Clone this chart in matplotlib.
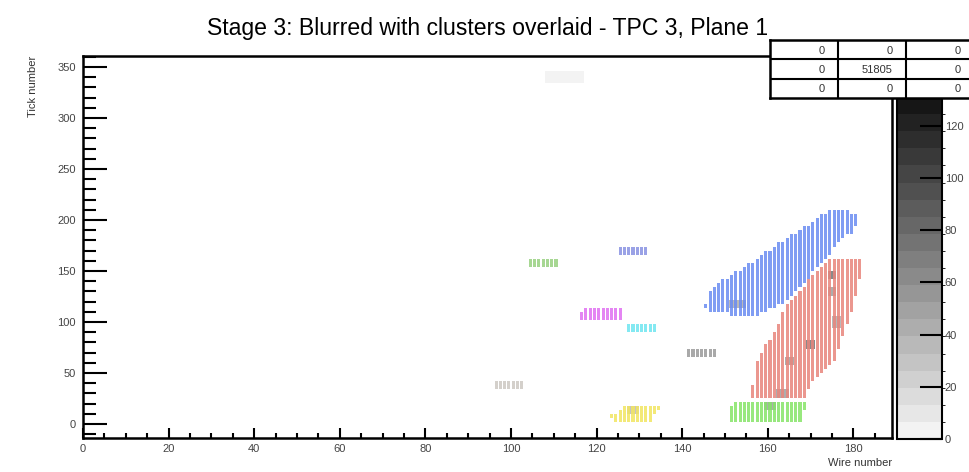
import numpy as np
import matplotlib.pyplot as plt
from matplotlib.colors import LinearSegmentedColormap, BoundaryNorm
from matplotlib.patches import Rectangle
from matplotlib.collections import PatchCollection
from matplotlib.path import Path
from matplotlib.ticker import MultipleLocator

plt.rcParams['font.family'] = ['Liberation Sans', 'DejaVu Sans']

# histogram binning: one bin per wire, 4 ticks per bin
wire_max = 189
tick_min, tick_max, tick_bin = -14, 362, 4
z_max = 131
n_levels = 20

# charge still visible in the blurred histogram (wire range, tick range, charge)
hit_wire_lo = [108, 174, 174, 169, 164, 162, 151, 159, 127, 175]
hit_wire_hi = [117, 176, 176, 171, 166, 165, 155, 162, 130, 177]
hit_tick_lo = [334, 142, 126, 74, 58, 26, 114, 15, 10, 96]
hit_tick_hi = [346, 150, 134, 82, 66, 32, 122, 20, 16, 104]
hit_charge = [6, 60, 45, 65, 45, 40, 35, 45, 30, 35]

# cluster outlines (wire, tick)
blue_outline = [(145.1, 113.7), (146.5, 108.8), (157.5, 106.9), (165.7, 124.5),
                (177.6, 183.3), (179.9, 185.3), (181.5, 206.9), (174.5, 209.8),
                (148.8, 138.2), (146.5, 131.4)]
red_outline = [(181.5, 160.8), (173.8, 160.8), (170.3, 144.1), (162.9, 108.8),
               (162.9, 99.0), (157.5, 62.7), (157.0, 43.1), (155.8, 35.3),
               (155.8, 26.5), (168.7, 25.5), (170.6, 43.1), (175.2, 59.8),
               (178.5, 97.1), (181.5, 141.2)]
green_outline = [(151.9, 23.5), (168.7, 23.5), (168.7, 16.7), (167.5, 3.9),
                 (151.2, 3.9), (150.7, 6.9)]
yellow_outline = [(123.1, 6.9), (126.2, 16.7), (134.8, 16.7), (132.5, 3.9), (123.8, 2.0)]
magenta_outline = [(115.7, 102.0), (115.7, 110.0), (119.0, 114.7), (125.9, 114.7),
                   (125.9, 104.0), (122.0, 102.0)]
cyan_outline = [(127.1, 88.2), (127.1, 96.1), (133.9, 96.1), (133.9, 88.2)]
violet_outline = [(125.0, 167.6), (125.0, 175.5), (131.8, 175.5), (131.8, 167.6)]
lime_outline = [(103.7, 153.0), (103.7, 162.7), (111.0, 162.7), (111.0, 153.0)]
grey_outline = [(140.7, 66.7), (140.7, 75.5), (147.7, 75.5), (147.7, 66.7)]
sand_outline = [(95.6, 35.3), (95.6, 43.0), (103.3, 43.0), (103.3, 35.3)]

clusters = [blue_outline, red_outline, green_outline, yellow_outline, magenta_outline,
            cyan_outline, violet_outline, lime_outline, grey_outline, sand_outline]
cluster_colors = ['#6a8cf2', '#e8857c', '#86e468', '#f2e660', '#e070f2',
                  '#6ee6f0', '#8892e2', '#98d080', '#9a9a9a', '#cdc8c2']

stats_values = [['0', '0', '0'], ['0', '51805', '0'], ['0', '0', '0']]

fig = plt.figure(figsize=(9.7, 4.72), dpi=100)
ax = fig.add_axes([83 / 970, 34 / 472, 809 / 970, 382 / 472])

wire_edges = np.arange(0, wire_max + 1)
tick_edges = np.arange(tick_min, tick_max + tick_bin, tick_bin)
wc = 0.5 * (wire_edges[:-1] + wire_edges[1:])
tc = 0.5 * (tick_edges[:-1] + tick_edges[1:])
WC, TC = np.meshgrid(wc, tc)

hist = np.zeros_like(WC)
for w0, w1, t0, t1, q in zip(hit_wire_lo, hit_wire_hi, hit_tick_lo, hit_tick_hi, hit_charge):
    sel = (WC >= w0) & (WC <= w1) & (TC >= t0) & (TC <= t1)
    hist[sel] = q

grey = LinearSegmentedColormap.from_list('rootgrey', ['#f3f3f3', '#161616'], N=n_levels)
bounds = np.linspace(0, z_max, n_levels + 1)
norm = BoundaryNorm(bounds, grey.N)
mesh = ax.pcolormesh(wire_edges, tick_edges, np.ma.masked_equal(hist, 0),
                     cmap=grey, norm=norm, zorder=1)

# each cluster drawn as a set of coloured boxes, one per bin inside its outline
pts = np.column_stack([WC.ravel(), TC.ravel()])
for outline, col in zip(clusters, cluster_colors):
    inside = Path(outline).contains_points(pts)
    boxes = [Rectangle((w - 0.36, t - tick_bin * 0.5), 0.72, tick_bin)
             for w, t in pts[inside]]
    ax.add_collection(PatchCollection(boxes, facecolor=col, edgecolor='none',
                                      alpha=0.85, zorder=2, antialiased=False))

ax.set_xlim(0, wire_max)
ax.set_ylim(-13.7, 360.8)
ax.xaxis.set_major_locator(MultipleLocator(20))
ax.xaxis.set_minor_locator(MultipleLocator(5))
ax.yaxis.set_major_locator(MultipleLocator(50))
ax.yaxis.set_minor_locator(MultipleLocator(10))
ax.tick_params(axis='x', which='major', direction='in', length=7, width=1.5,
               labelsize=8, labelcolor='#444444', pad=4)
ax.tick_params(axis='x', which='minor', direction='in', length=3.5, width=1.5)
ax.tick_params(axis='y', which='major', direction='in', length=17, width=1.5,
               labelsize=8, labelcolor='#444444', pad=5)
ax.tick_params(axis='y', which='minor', direction='in', length=9, width=1.5)
for s in ax.spines.values():
    s.set_linewidth(1.8)
ax.set_xlabel('Wire number', loc='right', fontsize=8, color='#333333', labelpad=3)
ax.set_ylabel('Tick number', loc='top', fontsize=8, color='#333333', labelpad=14)
fig.text(488 / 970, 1 - 29 / 472, 'Stage 3: Blurred with clusters overlaid - TPC 3, Plane 1',
         ha='center', va='center', fontsize=16.6)

# colour palette on the right
cax = fig.add_axes([897 / 970, 33 / 472, 45 / 970, 342 / 472])
cb = fig.colorbar(mesh, cax=cax)
cb.set_ticks(np.arange(0, 121, 20))
cb.outline.set_linewidth(1.5)
cax.tick_params(direction='in', length=16, width=1.5, labelsize=8,
                labelcolor='#444444', pad=2)

# under/overflow statistics table
tab = fig.add_axes([770 / 970, 374 / 472, 204 / 970, 58 / 472], zorder=5)
tab.set_xlim(0, 3)
tab.set_ylim(3, 0)
tab.add_patch(Rectangle((0, 0), 3, 3, facecolor='white', edgecolor='none'))
for k in range(1, 3):
    tab.axhline(k, color='black', lw=1.5)
    tab.axvline(k, color='black', lw=1.5)
for r in range(3):
    for c in range(3):
        tab.text(c + 0.8, r + 0.55, stats_values[r][c], ha='right', va='center',
                 fontsize=8, color='#333333')
tab.set_xticks([])
tab.set_yticks([])
for s in tab.spines.values():
    s.set_linewidth(1.8)

fig.savefig('out.png', dpi=100)
